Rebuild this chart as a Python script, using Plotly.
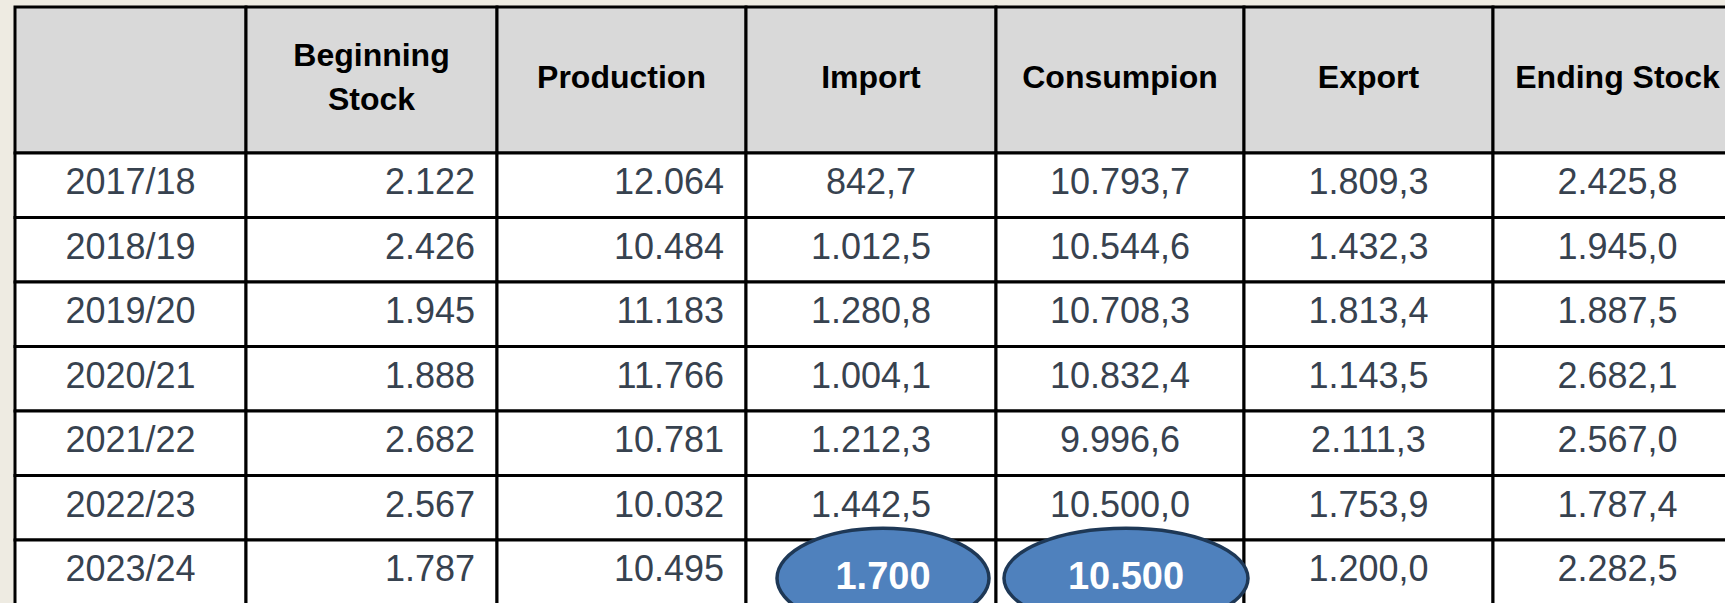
import plotly.graph_objects as go

# ---- data ----
years = ["2017/18", "2018/19", "2019/20", "2020/21", "2021/22", "2022/23", "2023/24"]
headers = ["", "Beginning<br>Stock", "Production", "Import", "Consumpion", "Export", "Ending Stock"]
beginning_stock = [2122, 2426, 1945, 1888, 2682, 2567, 1787]
production = [12064, 10484, 11183, 11766, 10781, 10032, 10495]
imports = [842.7, 1012.5, 1280.8, 1004.1, 1212.3, 1442.5, 1700]
consumption = [10793.7, 10544.6, 10708.3, 10832.4, 9996.6, 10500.0, 10500]
export = [1809.3, 1432.3, 1813.4, 1143.5, 2111.3, 1753.9, 1200.0]
ending_stock = [2425.8, 1945.0, 1887.5, 2682.1, 2567.0, 1787.4, 2282.5]
highlight_cols = [3, 4]  # last-row cells shown as callout ellipses


def eu(v, d):
    s = f"{v:,.{d}f}"
    return s.replace(",", "#").replace(".", ",").replace("#", ".")


# ---- layout constants ----
W, H = 1725, 603
x_start = 15
col_widths = [231, 251, 249, 250, 248, 249, 249]
y_top = 7
header_h = 146
row_h = 64.5
pad_right = 22
header_line_gap = 44
BG = "#EEEBE2"
HEADER_FILL = "#D9D9D9"
TXT = "#37424F"
FONT = "Liberation Sans, Arial, sans-serif"

col_edges = [x_start]
for w in col_widths:
    col_edges.append(col_edges[-1] + w)
col_centers = [(col_edges[i] + col_edges[i + 1]) / 2 for i in range(len(col_widths))]
row_edges = [y_top, y_top + header_h]
for _ in years:
    row_edges.append(row_edges[-1] + row_h)
row_centers = [(row_edges[i + 1] + row_edges[i + 2]) / 2 for i in range(len(years))]
header_cy = (row_edges[0] + row_edges[1]) / 2

shapes = []
# cells
for r in range(len(years) + 1):
    for c in range(len(col_widths)):
        shapes.append(dict(
            type="rect", xref="x", yref="y", layer="below",
            x0=col_edges[c], x1=col_edges[c + 1], y0=row_edges[r], y1=row_edges[r + 1],
            fillcolor=HEADER_FILL if r == 0 else "white",
            line=dict(color="black", width=3),
        ))

# callout ellipses on last row
ell_offsets = [12, 6]
ell_rx = [106, 122]
ell_ry = 50
ell_cy = row_centers[-1] + 6
for k, c in enumerate(highlight_cols):
    cx = col_centers[c] + ell_offsets[k]
    shapes.append(dict(
        type="circle", xref="x", yref="y", layer="below",
        x0=cx - ell_rx[k], x1=cx + ell_rx[k], y0=ell_cy - ell_ry, y1=ell_cy + ell_ry,
        fillcolor="#4F81BD", line=dict(color="#1E3856", width=3.5),
    ))

fig = go.Figure()

# header text (multi-line headers laid out line by line)
hx, hy, ht = [], [], []
for c, h in enumerate(headers):
    lines = h.split("<br>")
    n_l = len(lines)
    for j, line in enumerate(lines):
        hx.append(col_centers[c])
        hy.append(header_cy + (j - (n_l - 1) / 2) * header_line_gap)
        ht.append(line)
fig.add_trace(go.Scatter(
    x=hx, y=hy, text=ht, mode="text", textposition="middle center",
    textfont=dict(family=FONT, size=32, color="black", weight="bold"),
    hoverinfo="skip", showlegend=False,
))

columns = [
    (0, years, "center"),
    (1, [eu(v, 0) for v in beginning_stock], "right"),
    (2, [eu(v, 0) for v in production], "right"),
    (3, [eu(v, 1) for v in imports[:-1]], "center"),
    (4, [eu(v, 1) for v in consumption[:-1]], "center"),
    (5, [eu(v, 1) for v in export], "center"),
    (6, [eu(v, 1) for v in ending_stock], "center"),
]
for c, texts, align in columns:
    if align == "right":
        xs = [col_edges[c + 1] - pad_right] * len(texts)
        pos = "middle left"
    else:
        xs = [col_centers[c]] * len(texts)
        pos = "middle center"
    fig.add_trace(go.Scatter(
        x=xs, y=row_centers[:len(texts)], text=texts, mode="text", textposition=pos,
        textfont=dict(family=FONT, size=36, color=TXT),
        hoverinfo="skip", showlegend=False,
    ))

# callout text
fig.add_trace(go.Scatter(
    x=[col_centers[c] + ell_offsets[k] for k, c in enumerate(highlight_cols)],
    y=[ell_cy + 1] * len(highlight_cols),
    text=[eu(imports[-1], 0), eu(consumption[-1], 0)],
    mode="text", textposition="middle center",
    textfont=dict(family=FONT, size=38, color="white", weight="bold"),
    hoverinfo="skip", showlegend=False,
))

fig.update_layout(
    width=W, height=H,
    margin=dict(l=0, r=0, t=0, b=0),
    paper_bgcolor=BG, plot_bgcolor=BG,
    shapes=shapes,
    hovermode=False,
    xaxis=dict(range=[0, W], visible=False, fixedrange=True),
    yaxis=dict(range=[H, 0], visible=False, fixedrange=True),
)

fig.write_html(
    "out.html",
    config={"displayModeBar": False, "staticPlot": True},
    post_script="document.body.style.margin='0';document.body.style.background='%s';"
                "document.body.style.overflow='hidden';" % BG,
)
